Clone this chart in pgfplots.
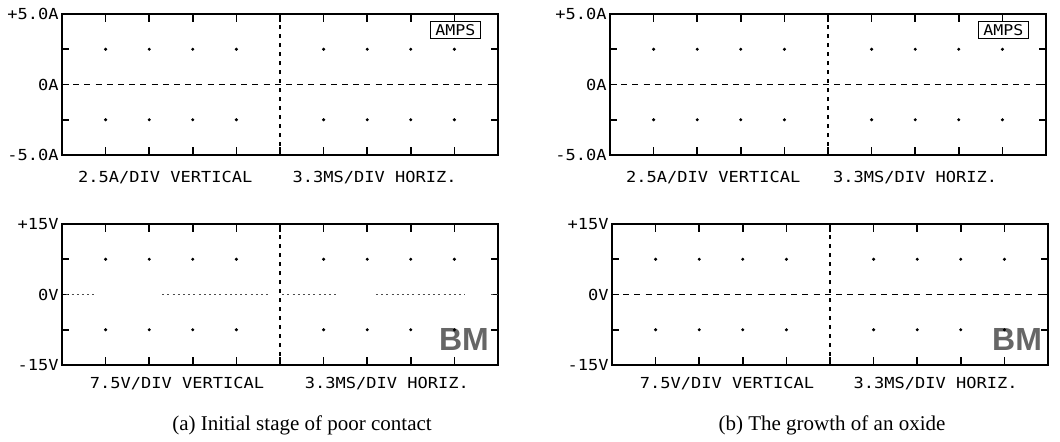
\documentclass[border=0pt]{standalone}
\usepackage{fontspec}
\setmainfont{Liberation Serif}
\newfontfamily\dotfont{DejaVu Sans Mono}
\newfontfamily\logofont{Liberation Sans}
\usepackage{pgfplots}
\usepackage{pgfplotstable}
\pgfplotsset{compat=1.18}

% printer text is wider than the mono font
\newcommand\dm[1]{\scalebox{1.12}[1]{#1}}

% graticule dots at the inner division crossings
\pgfplotstableread{
x y
1 1
2 1
3 1
4 1
6 1
7 1
8 1
9 1
1 -1
2 -1
3 -1
4 -1
6 -1
7 -1
8 -1
9 -1
}\gridpts

% division marks on the top and bottom edges
\pgfplotstableread{
x y
1 2
1 1.78
nan nan
2 2
2 1.78
nan nan
3 2
3 1.78
nan nan
4 2
4 1.78
nan nan
5 2
5 1.78
nan nan
6 2
6 1.78
nan nan
7 2
7 1.78
nan nan
8 2
8 1.78
nan nan
9 2
9 1.78
nan nan
1 -2
1 -1.78
nan nan
2 -2
2 -1.78
nan nan
3 -2
3 -1.78
nan nan
4 -2
4 -1.78
nan nan
5 -2
5 -1.78
nan nan
6 -2
6 -1.78
nan nan
7 -2
7 -1.78
nan nan
8 -2
8 -1.78
nan nan
9 -2
9 -1.78
}\edgemarks

% broken 0V trace of the poor contact (gaps as nan)
\pgfplotstableread{
x y
0.1 0
0.75 0
nan nan
2.3 0
4.8 0
nan nan
5.05 0
6.35 0
nan nan
7.2 0
9.25 0
nan nan
9.85 0
9.98 0
}\brokentrace

\pgfplotsset{
  osc/.style={
    scale only axis, width=218pt, height=70.5pt,
    xmin=0, xmax=10, ymin=-2, ymax=2,
    xtick=\empty, ytick={-2,-1,0,1,2},
    yticklabel=\empty,
    tick align=inside, major tick length=3.5pt,
    ytick style={black, line width=0.8pt},
    ytick pos=both,
    axis line style={line width=1pt},
    clip=false, unbounded coords=jump,
  },
  dots/.style={only marks, mark=*, mark size=0.55pt, black},
  marks/.style={black, line width=0.8pt},
  centre/.style={black, line width=0.7pt, dash pattern=on 3pt off 2.6pt},
  vcentre/.style={black, line width=0.7pt, dash pattern=on 2pt off 2.5pt},
}
\tikzset{
  lab/.style={font=\dotfont\fontsize{7.6}{8}\selectfont, inner sep=0pt},
  ylab/.style={lab, anchor=east, xshift=-1.5pt},
  amps/.style={draw, line width=0.5pt, inner xsep=2.4pt, inner ysep=1.6pt, font=\dotfont\fontsize{7.4}{8}\selectfont},
  bm/.style={font=\logofont\bfseries\fontsize{16}{16}\selectfont, text=black!60, inner sep=0pt},
  capt/.style={font=\fontsize{10.5}{12}\selectfont, inner sep=0pt},
}

\begin{document}
\begin{tikzpicture}
\path[use as bounding box] (0pt,0pt) rectangle (530pt,-220.5pt);

% (a) current
\begin{axis}[osc, at={(31pt,-77.5pt)}, anchor=south west]
  \addplot[dots] table {\gridpts};
  \addplot[marks] table {\edgemarks};
  \addplot[vcentre] coordinates {(5,-2) (5,2)};
  \addplot[centre] coordinates {(0,0) (10,0)};
  \node[ylab] at (axis cs:0,2) {\dm{+5.0A}};
  \node[ylab] at (axis cs:0,0) {\dm{0A}};
  \node[ylab] at (axis cs:0,-2) {\dm{-5.0A}};
  \node[amps] at (axis cs:9.02,1.55) {\dm{AMPS}};
  \node[lab, yshift=-11.5pt] at (axis cs:2.37,-2) {\dm{2.5A/DIV VERTICAL}};
  \node[lab, yshift=-11.5pt] at (axis cs:7.17,-2) {\dm{3.3MS/DIV HORIZ.}};
\end{axis}

% (b) current
\begin{axis}[osc, at={(305pt,-77.5pt)}, anchor=south west]
  \addplot[dots] table {\gridpts};
  \addplot[marks] table {\edgemarks};
  \addplot[vcentre] coordinates {(5,-2) (5,2)};
  \addplot[centre] coordinates {(0,0) (10,0)};
  \node[ylab] at (axis cs:0,2) {\dm{+5.0A}};
  \node[ylab] at (axis cs:0,0) {\dm{0A}};
  \node[ylab] at (axis cs:0,-2) {\dm{-5.0A}};
  \node[amps] at (axis cs:9.02,1.55) {\dm{AMPS}};
  \node[lab, yshift=-11.5pt] at (axis cs:2.37,-2) {\dm{2.5A/DIV VERTICAL}};
  \node[lab, yshift=-11.5pt] at (axis cs:7.0,-2) {\dm{3.3MS/DIV HORIZ.}};
\end{axis}

% (a) voltage
\begin{axis}[osc, at={(31pt,-182.5pt)}, anchor=south west]
  \addplot[dots] table {\gridpts};
  \addplot[marks] table {\edgemarks};
  \addplot[vcentre] coordinates {(5,-2) (5,2)};
  \addplot[black!70, line width=0.6pt, dash pattern=on 1pt off 1.6pt] table {\brokentrace};
  \node[ylab] at (axis cs:0,2) {\dm{+15V}};
  \node[ylab] at (axis cs:0,0) {\dm{0V}};
  \node[ylab] at (axis cs:0,-2) {\dm{-15V}};
  \node[bm] at (axis cs:9.22,-1.29) {BM};
  \node[lab, yshift=-9.5pt] at (axis cs:2.64,-2) {\dm{7.5V/DIV VERTICAL}};
  \node[lab, yshift=-9.5pt] at (axis cs:7.45,-2) {\dm{3.3MS/DIV HORIZ.}};
\end{axis}

% (b) voltage
\begin{axis}[osc, at={(306pt,-182.5pt)}, anchor=south west]
  \addplot[dots] table {\gridpts};
  \addplot[marks] table {\edgemarks};
  \addplot[vcentre] coordinates {(5,-2) (5,2)};
  \addplot[centre] coordinates {(0,0) (10,0)};
  \node[ylab] at (axis cs:0,2) {\dm{+15V}};
  \node[ylab] at (axis cs:0,0) {\dm{0V}};
  \node[ylab] at (axis cs:0,-2) {\dm{-15V}};
  \node[bm] at (axis cs:9.29,-1.29) {BM};
  \node[lab, yshift=-9.5pt] at (axis cs:2.64,-2) {\dm{7.5V/DIV VERTICAL}};
  \node[lab, yshift=-9.5pt] at (axis cs:7.42,-2) {\dm{3.3MS/DIV HORIZ.}};
\end{axis}

% captions
\node[capt] at (151pt,-212.5pt) {(a) Initial stage of poor contact};
\node[capt] at (416pt,-212.5pt) {(b) The growth of an oxide};
\end{tikzpicture}
\end{document}
